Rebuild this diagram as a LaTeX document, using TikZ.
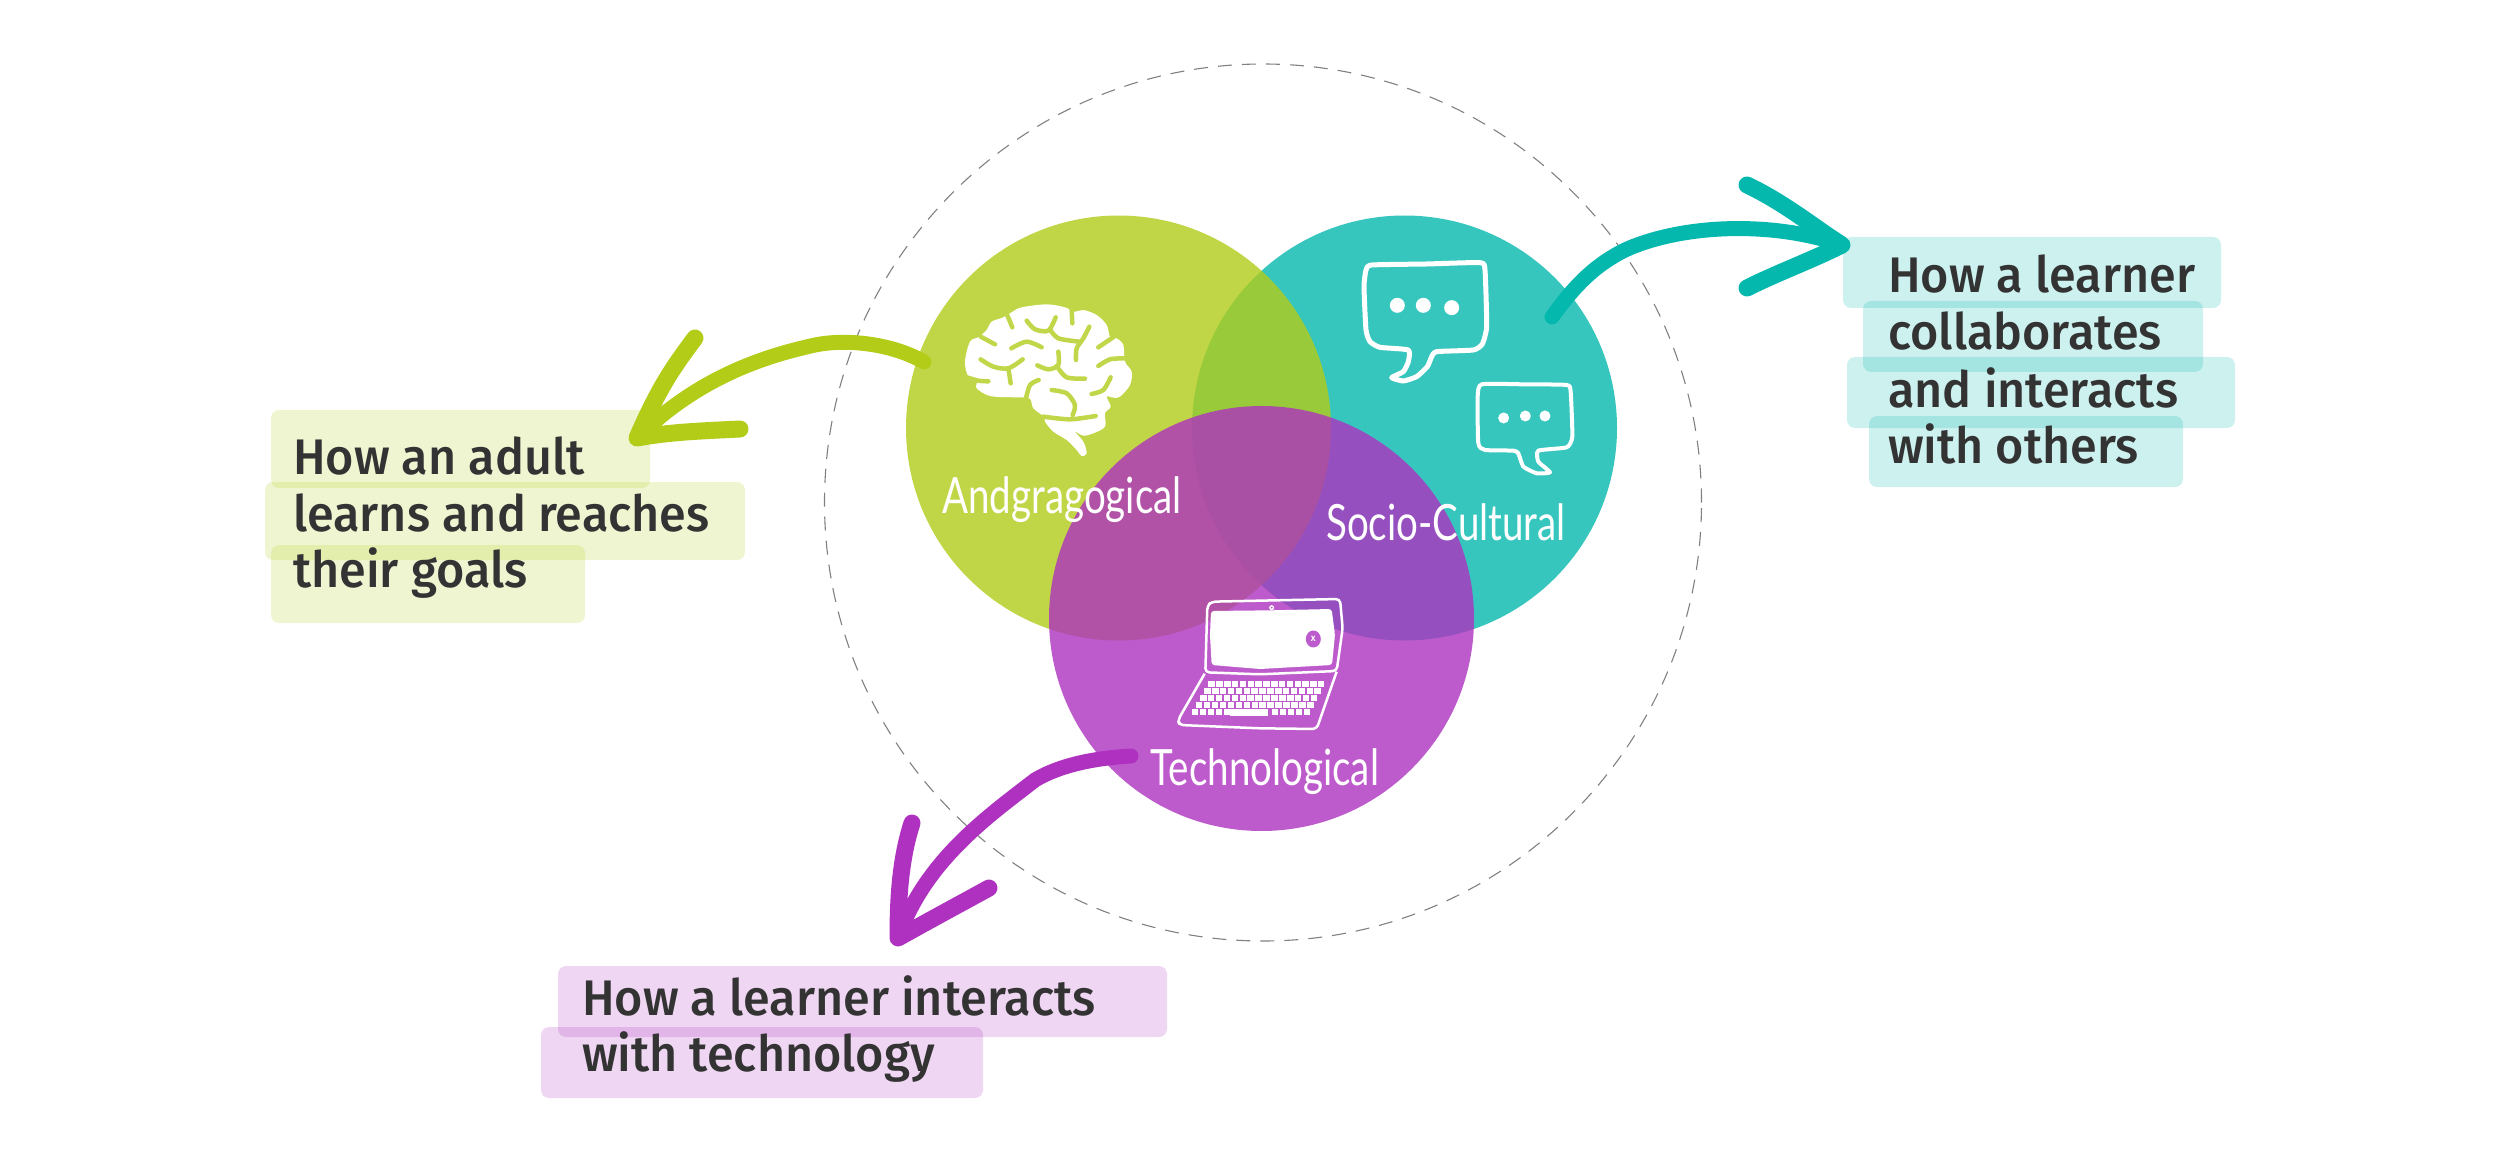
\documentclass[tikz,border=0pt]{standalone}
\usepackage{graphicx}
\usepackage{fontspec}
\setmainfont{Fira Sans Medium}[FakeStretch=0.97]
\newfontfamily\handfont[FakeStretch=0.77]{Lato}
\definecolor{adgreen}{HTML}{B2CC18}
\definecolor{soteal}{HTML}{04B8AE}
\definecolor{tepurple}{HTML}{AE32BF}
\definecolor{adflat}{HTML}{C2D64A}
\definecolor{teflat}{HTML}{BB5BCE}
\definecolor{ink}{HTML}{333333}
\definecolor{ringgray}{HTML}{808080}
\usetikzlibrary{arrows.meta,positioning,calc}

\begin{document}
\begin{tikzpicture}[x=1pt,y=-1pt,
  venn/.style={circle,minimum size=425pt,inner sep=0pt,fill opacity=0.8},
  marker/.style={rounded corners=8pt,opacity=0.2},
  noteline/.style={font=\fontsize{50}{50}\selectfont,text=ink,inner sep=0pt,anchor=base west},
  hand/.style={font=\handfont\fontsize{50}{50}\selectfont,text=white,inner sep=0pt,anchor=base},
  shaft/.style={line width=15pt,line cap=round,line join=round},
  barb/.style={line width=17pt,line cap=round,line join=round},
  crease/.style={adflat,line width=4.5pt,line cap=round,line join=round},
  sketch/.style={white,line join=round}]
  \useasboundingbox (0,0) rectangle (2500,1155);
  % Outer ring
  \node[circle,draw=ringgray,line width=1.1pt,dash pattern=on 14pt off 10pt,minimum size=877pt,inner sep=0pt] (ring) at (1263,502.5) {};
  % Venn circles
  \node[venn,fill=soteal] (social) at (1404.5,428) {};
  \node[venn,fill=adgreen] (adult) at (1118.5,428) {};
  \node[venn,fill=tepurple] (tech) at (1261.5,618.5) {};
  % Brain
  \begin{scope}[shift={(950,290)},x=0.3333pt,y=-0.3333pt]
    \fill[white] plot[smooth cycle,tension=0.55] coordinates {(45,215) (60,155) (85,142) (110,120) (125,95) (160,82) (188,65) (215,52) (290,43) (345,52) (372,65) (400,60) (440,75) (470,105) (480,140) (500,145) (520,165) (525,215) (545,245) (540,285) (510,320) (490,323) (470,320) (482,350) (465,370) (465,410) (430,430) (400,437) (375,425) (400,455) (410,490) (395,498) (380,480) (350,450) (310,425) (285,395) (282,380) (250,355) (238,325) (190,322) (120,318) (80,295) (80,275) (55,260)};
    \draw[crease] (172,76) -- (187,112);
    \draw[crease] (92,140) -- (135,163);
    \draw[crease] (365,58) -- (367,100);
    \draw[crease] plot[smooth] coordinates {(230,92) (255,118) (295,122) (317,82)};
    \draw[crease] plot[smooth] coordinates {(300,118) (325,145) (388,155)};
    \draw[crease] plot[smooth] coordinates {(418,110) (400,145) (380,175) (378,210)};
    \draw[crease] (445,172) -- (495,138);
    \draw[crease] plot[smooth] coordinates {(184,175) (230,155) (275,172)};
    \draw[crease] plot[smooth] coordinates {(92,208) (130,230) (175,235) (218,208)};
    \draw[crease] (175,235) -- (182,280);
    \draw[crease] plot[smooth] coordinates {(262,226) (295,238) (325,225) (325,185)};
    \draw[crease] plot[smooth] coordinates {(320,228) (350,262) (405,266)};
    \draw[crease] plot[smooth] coordinates {(445,228) (480,208) (525,205)};
    \draw[crease] plot[smooth] coordinates {(425,312) (460,300) (482,262)};
    \draw[crease] plot[smooth] coordinates {(305,300) (350,310) (375,345) (368,375)};
    \draw[crease] plot[smooth] coordinates {(266,270) (240,285) (228,325)};
    \draw[crease] plot[smooth] coordinates {(280,380) (360,388) (437,378)};
    \draw[crease] plot[smooth] coordinates {(50,262) (85,272) (115,274)};
  \end{scope}
  % Speech bubbles
  \begin{scope}[shift={(1350,240)},x=0.3333pt,y=-0.3333pt]
    \draw[sketch,line width=5pt] plot[smooth cycle,tension=0.3] coordinates {(65,75) (230,72) (390,68) (405,90) (410,260) (397,312) (370,330) (260,335) (245,350) (232,380) (200,410) (160,423) (125,413) (160,395) (175,365) (175,330) (90,322) (60,305) (48,270) (42,140) (48,90)};
    \fill[white] (142,196) circle[radius=7.5pt] (220,196) circle[radius=7.5pt] (305,203) circle[radius=7.5pt];
    \draw[sketch,line width=4pt] plot[smooth cycle,tension=0.3] coordinates {(395,433) (520,433) (650,435) (662,455) (667,590) (650,622) (565,632) (565,665) (600,697) (560,700) (520,680) (505,640) (490,632) (405,630) (385,610) (383,470)};
    \fill[white] (461,534) circle[radius=5.5pt] (526,528) circle[radius=5.5pt] (585,528) circle[radius=5.5pt];
  \end{scope}
  % Laptop
  \begin{scope}[shift={(1160,585)},x=0.3333pt,y=-0.3333pt]
    \draw[sketch,line width=2.5pt,rounded corners=4pt] (142,62) -- (155,50) -- (540,42) -- (548,130) -- (530,258) -- (300,268) -- (136,262) -- cycle;
    \fill[white,rounded corners=3pt] (153,78) -- (330,76) -- (515,72) -- (525,150) -- (516,240) -- (300,252) -- (155,240) -- (150,150) -- cycle;
    \fill[white] (335,68) circle[radius=2.5pt];
    \fill[teflat] (335,68) circle[radius=1pt];
    \fill[teflat] (460,162) ellipse[x radius=7.5pt,y radius=8.5pt];
    \node[font=\fontsize{10}{10}\selectfont,text=white,inner sep=0pt] (closex) at (460,162) {x};
    \draw[sketch,line width=2.5pt,rounded corners=4pt] (134,266) -- (54,405) -- (58,420) -- (300,430) -- (470,432) -- (530,260);
    \foreach \row in {0,...,4}{
      \foreach \key in {0,...,14}{
        \pgfmathsetmacro{\xl}{145 - \row*12.5 + \key*(23.5 + \row*0.12)}
        \pgfmathsetmacro{\yt}{288 + \row*21}
        \ifnum\row=4
          \ifnum\key>4 \ifnum\key<10 \else \fill[white] (\xl,\yt) rectangle ++(19.5,17); \fi
          \else \fill[white] (\xl,\yt) rectangle ++(19.5,17); \fi
        \else
          \fill[white] (\xl,\yt) rectangle ++(19.5,17);
        \fi
      }
    }
    \fill[white] (210,372) rectangle (325,393);
  \end{scope}
  % Venn labels
  \node[hand] (adultname) at (1062,513) {Andgragogical};
  \node[hand] (socialname) at (1446,540) {Socio-Cultural};
  \node[hand] (techname) at (1265,785) {Technological};
  % Green note
  \fill[adgreen,marker] (271,410) rectangle (650,488);
  \fill[adgreen,marker] (265,482) rectangle (745,560);
  \fill[adgreen,marker] (271,545) rectangle (585,623);
  \node[noteline] (adultone) at (293,474) {How an adult};
  \node[noteline] (adulttwo) at (293,531) {learns and reaches};
  \node[noteline] (adultthree) at (293,587) {their goals};
  % Teal note
  \fill[soteal,marker] (1843,237) rectangle (2221,308);
  \fill[soteal,marker] (1863,301) rectangle (2203,372);
  \fill[soteal,marker] (1847,357) rectangle (2235,428);
  \fill[soteal,marker] (1869,416) rectangle (2183,487);
  \node[noteline] (socialone) at (1888,293) {How a learner};
  \node[noteline] (socialtwo) at (1888,350) {collaborates};
  \node[noteline] (socialthree) at (1888,407) {and interacts};
  \node[noteline] (socialfour) at (1888,463) {with others};
  % Purple note
  \fill[tepurple,marker] (558,966) rectangle (1167,1037);
  \fill[tepurple,marker] (541,1027) rectangle (983,1098);
  \node[noteline] (techone) at (582,1015) {How a learner interacts};
  \node[noteline] (techtwo) at (582,1071) {with technology};
  % Green arrow
  \coordinate (adfrom) at (924,362);
  \coordinate (adtip) at (637,438);
  \coordinate (adup) at (695,338);
  \coordinate (adlow) at (740,429);
  \draw[shaft,adgreen] (adfrom) .. controls (895,345) and (850,338) .. (815,345) .. controls (770,355) and (700,375) .. (adtip);
  \draw[barb,adgreen] (adup) .. controls (675,365) and (660,385) .. (adtip) .. controls (670,432) and (700,431) .. (adlow);
  % Teal arrow
  \coordinate (sofrom) at (1552,317);
  \coordinate (sotip) at (1842,245);
  \coordinate (soup) at (1747,185);
  \coordinate (solow) at (1747,288);
  \draw[shaft,soteal] (sofrom) .. controls (1575,285) and (1595,265) .. (1625,250) .. controls (1680,225) and (1770,220) .. (sotip);
  \draw[barb,soteal] (soup) .. controls (1785,203) and (1815,228) .. (sotip) .. controls (1810,261) and (1779,272) .. (solow);
  % Purple arrow
  \coordinate (tefrom) at (1131,756);
  \coordinate (tetip) at (898,938);
  \coordinate (teup) at (912,823);
  \coordinate (telow) at (989,888);
  \draw[shaft,tepurple] (tefrom) .. controls (1095,758) and (1060,765) .. (1035,780) .. controls (990,815) and (925,860) .. (tetip);
  \draw[barb,tepurple] (teup) .. controls (900,860) and (898,900) .. (tetip) .. controls (930,920) and (960,904) .. (telow);
\end{tikzpicture}
\end{document}
